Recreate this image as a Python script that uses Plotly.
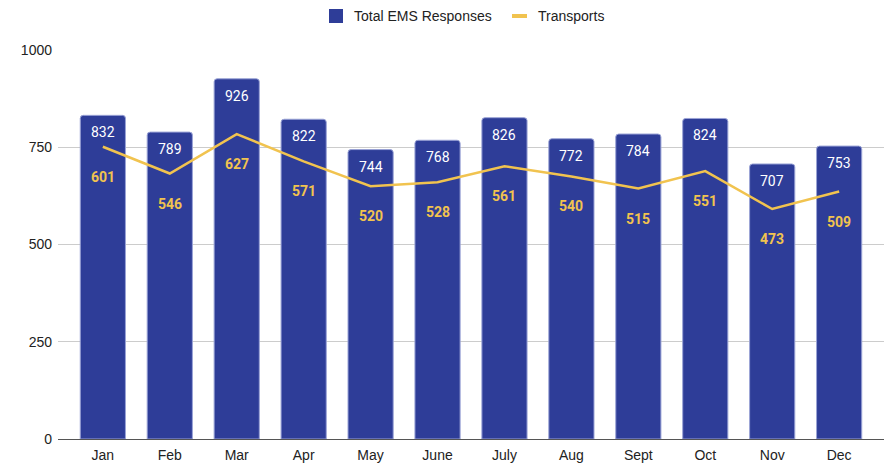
import plotly.graph_objects as go

months = ["Jan", "Feb", "Mar", "Apr", "May", "June", "July", "Aug", "Sept", "Oct", "Nov", "Dec"]
total_ems = [832, 789, 926, 822, 744, 768, 826, 772, 784, 824, 707, 753]
transports = [601, 546, 627, 571, 520, 528, 561, 540, 515, 551, 473, 509]

BAR = "#2e3d98"
LINE = "#f1c34f"
LABEL_FONT = "Roboto, Arial, sans-serif"
AXIS_FONT = "Arial, Liberation Sans, sans-serif"

W, H = 894, 467
ML, MR, MT, MB = 58, 10, 50, 28
PW, PH = W - ML - MR, H - MT - MB


def px_x(px):
    return (px - ML) / PW


def px_y(py):
    return (H - MB - py) / PH


fig = go.Figure()
fig.add_trace(go.Bar(
    x=months, y=total_ems, name="Total EMS Responses",
    marker=dict(color=BAR, line=dict(color="#9aa3d6", width=1), cornerradius=3),
    hoverinfo="skip",
))
fig.add_trace(go.Scatter(
    x=months, y=transports, name="Transports", yaxis="y2",
    mode="lines", line=dict(color=LINE, width=2.5),
    hoverinfo="skip",
))

annotations = []
for m, v in zip(months, total_ems):
    annotations.append(dict(x=m, y=v, xref="x", yref="y", text=str(v), showarrow=False,
                            yanchor="top", yshift=-7,
                            font=dict(family=LABEL_FONT, size=14, color="white")))
for m, v in zip(months, transports):
    annotations.append(dict(x=m, y=v, xref="x", yref="y2", text=f"<b>{v}</b>", showarrow=False,
                            yanchor="middle", yshift=-30,
                            font=dict(family=LABEL_FONT, size=14, color=LINE)))

# manual legend
legend_font = dict(family=AXIS_FONT, size=14, color="#222")
annotations.append(dict(x=px_x(352), y=px_y(16), xref="paper", yref="paper", text="Total EMS Responses",
                        showarrow=False, xanchor="left", yanchor="middle", font=legend_font))
annotations.append(dict(x=px_x(536), y=px_y(16), xref="paper", yref="paper", text="Transports",
                        showarrow=False, xanchor="left", yanchor="middle", font=legend_font))
shapes = [
    dict(type="rect", xref="paper", yref="paper", x0=px_x(329), x1=px_x(343), y0=px_y(23), y1=px_y(9),
         fillcolor=BAR, line=dict(width=0)),
    dict(type="line", xref="paper", yref="paper", x0=px_x(512), x1=px_x(527), y0=px_y(16), y1=px_y(16),
         line=dict(color=LINE, width=4)),
]

fig.update_layout(
    width=W, height=H,
    margin=dict(l=ML, r=MR, t=MT, b=MB, autoexpand=False),
    paper_bgcolor="white", plot_bgcolor="white",
    font=dict(family=AXIS_FONT, size=14, color="#222"),
    bargap=0.325,
    showlegend=False,
    xaxis=dict(range=[-0.67, 11.67], showgrid=False, ticks="", tickfont=dict(size=14, color="#222"),
               showline=False, automargin=False, ticklabelstandoff=6),
    yaxis=dict(range=[0, 1000], tickvals=[0, 250, 500, 750, 1000], showgrid=True, gridcolor="#cccccc",
               gridwidth=1, zeroline=True, zerolinecolor="#555555", zerolinewidth=1.3,
               tickfont=dict(size=14, color="#222"), ticks="", ticklabelstandoff=5, automargin=False),
    yaxis2=dict(range=[0, 800], overlaying="y", side="right", visible=False, showgrid=False),
    annotations=annotations,
    shapes=shapes,
)

fig.write_html("out.html", config={"displayModeBar": False},
               post_script="document.body.style.margin='0';document.body.style.overflow='hidden';")
